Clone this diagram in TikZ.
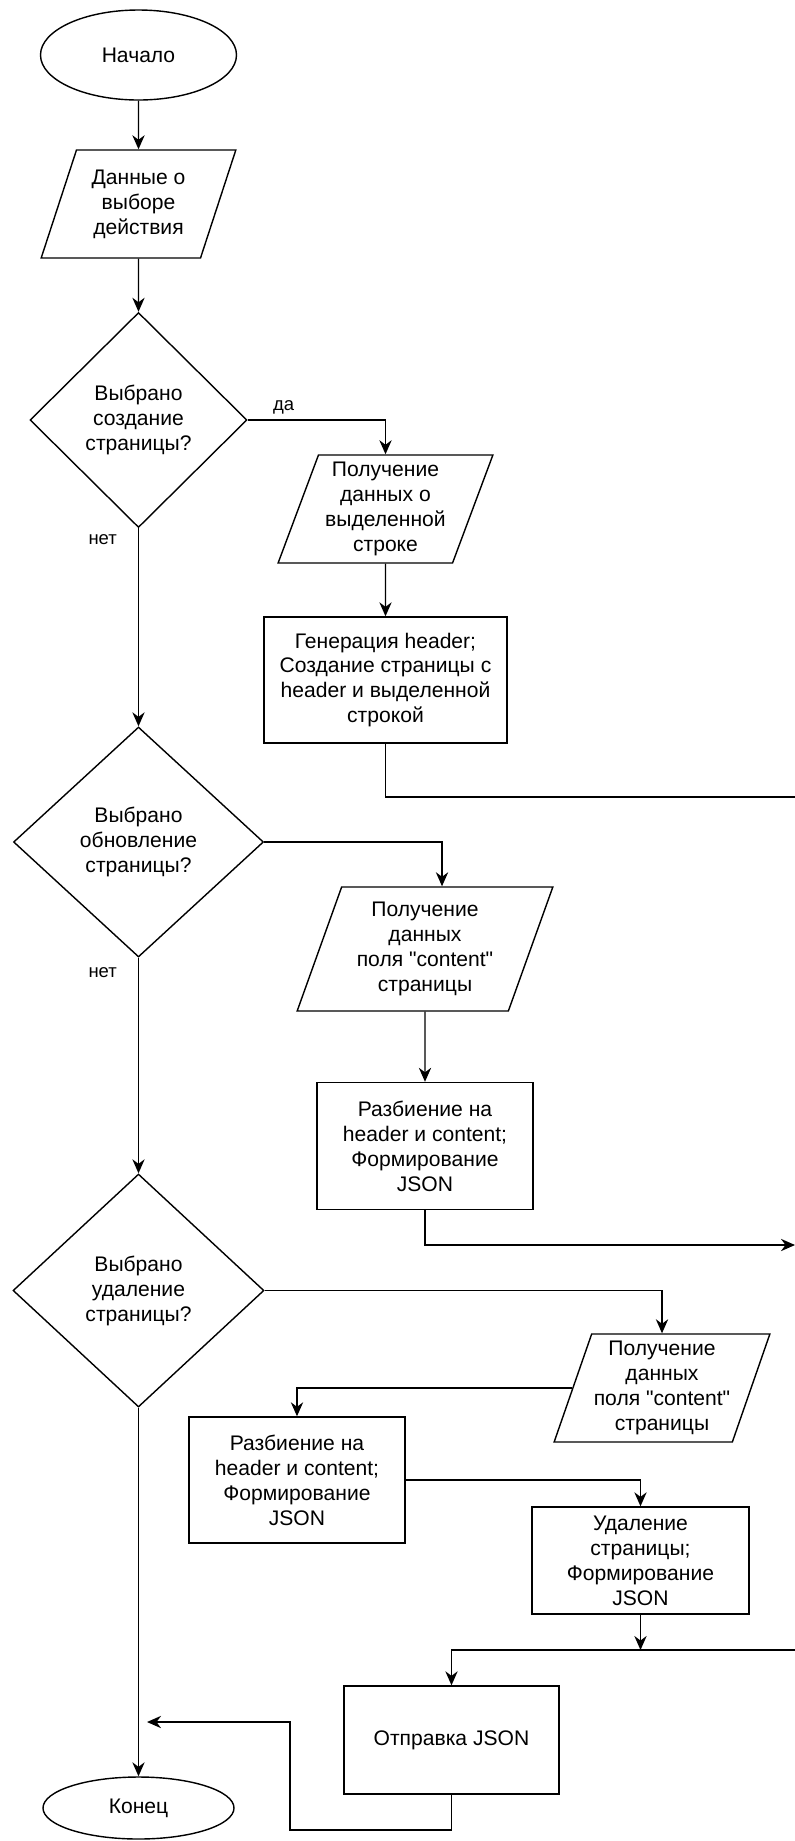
\documentclass[tikz,border=0pt]{standalone}
\usepackage{fontspec}
\setmainfont{Liberation Sans}[Ligatures=TeXOff]
\usetikzlibrary{shapes.geometric,arrows.meta,positioning}

\tikzset{
  base/.style={draw, line width=0.8pt, font=\fontsize{12}{14.2}\selectfont, align=center, inner sep=1pt},
  term/.style={base, ellipse},
  io/.style={base, trapezium, trapezium left angle=69, trapezium right angle=111, trapezium stretches=true},
  decision/.style={base, diamond},
  proc/.style={base, rectangle},
  line/.style={line width=0.8pt},
  arr/.style={line, -{Stealth[length=8pt,width=7pt]}},
  lbl/.style={font=\fontsize{10.5}{12}\selectfont, inner sep=0pt}
}

\begin{document}
\begin{tikzpicture}

\def\spineX{2.77}
\def\ioH{2.16}
\def\boxW{4.32}

\useasboundingbox (0,0) rectangle (15.9,-36.82);

\node[term, minimum width=3.92cm, minimum height=1.8cm] (start) at (\spineX,-1.1) {Начало};
\node[io, minimum width=3.9cm, minimum height=\ioH cm] (choice) at (\spineX,-4.08) {Данные о\\выборе\\действия};
\node[decision, minimum width=4.34cm, minimum height=4.3cm] (isCreate) at (\spineX,-8.4) {Выбрано\\создание\\страницы?};

\node[io, minimum width=4.3cm, minimum height=\ioH cm] (getRow) at (7.71,-10.18) {Получение\\данных о\\выделенной\\строке};
\node[proc, minimum width=4.86cm, minimum height=2.52cm] (create) at (7.71,-13.6) {Генерация header;\\Создание страницы с\\header и выделенной\\строкой};
\coordinate (outCreate) at (15.9,-15.94);

\node[decision, minimum width=5cm, minimum height=4.6cm] (isUpdate) at (\spineX,-16.84) {Выбрано\\обновление\\страницы?};
\node[io, minimum width=5.12cm, minimum height=2.48cm] (getUpd) at (8.5,-18.98) {Получение\\данных\\поля "content"\\страницы};
\node[proc, minimum width=\boxW cm, minimum height=2.54cm] (splitUpd) at (8.5,-22.92) {Разбиение на\\header и content;\\Формирование\\JSON};
\coordinate (outUpdate) at (15.9,-24.9);

\node[decision, minimum width=5.02cm, minimum height=4.66cm] (isDelete) at (\spineX,-25.81) {Выбрано\\удаление\\страницы?};
\node[io, minimum width=\boxW cm, minimum height=\ioH cm] (getDel) at (13.24,-27.76) {Получение\\данных\\поля "content"\\страницы};
\node[proc, minimum width=\boxW cm, minimum height=2.52cm] (splitDel) at (5.94,-29.6) {Разбиение на\\header и content;\\Формирование\\JSON};
\node[proc, minimum width=4.34cm, minimum height=2.14cm] (remove) at (12.81,-31.21) {Удаление\\страницы;\\Формирование\\JSON};
\coordinate (outDelete) at (15.9,-33);

\node[proc, minimum width=4.3cm, minimum height=2.16cm] (send) at (9.03,-34.8) {Отправка JSON};
\node[term, minimum width=3.82cm, minimum height=1.24cm] (finish) at (\spineX,-36.16) {Конец};
\coordinate (back1) at (5.8,-36.6);
\coordinate (back2) at (2.94,-34.44);

% main line
\draw[arr] (start) -- (choice);
\draw[arr] (choice) -- (isCreate);
\draw[arr] (isCreate.south) -- node[lbl, pos=0.06, left=0.42cm] {нет} (isUpdate.north);
\draw[arr] (isUpdate.south) -- node[lbl, pos=0.07, left=0.42cm] {нет} (isDelete.north);
\draw[arr] (isDelete) -- (finish);

% create
\draw[arr] (isCreate.east) -| node[lbl, pos=0.13, above=3pt] {да} (getRow.north);
\draw[arr] (getRow) -- (create);
\draw[line] (create.south) |- (outCreate);

% update
\draw[arr] (isUpdate.east) -| ([xshift=0.34cm]getUpd.north);
\draw[arr] (getUpd) -- (splitUpd);
\draw[arr] (splitUpd.south) |- (outUpdate);

% delete
\draw[arr] (isDelete.east) -| (getDel.north);
\draw[arr] (getDel.west) -| (splitDel.north);
\draw[arr] (splitDel.east) -| (remove.north);
\draw[arr] (remove.south) -- (remove.south |- outDelete);
\draw[arr] (outDelete) -| (send.north);
\draw[arr] (send.south) |- (back1) |- (back2);

\end{tikzpicture}
\end{document}
